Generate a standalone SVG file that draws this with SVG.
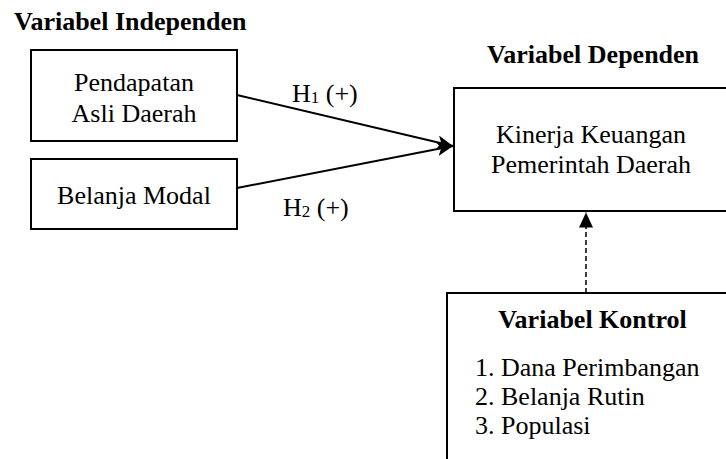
<svg xmlns="http://www.w3.org/2000/svg" width="726" height="459" viewBox="0 0 726 459">
<style>
text{font-family:"Liberation Serif","Times New Roman",serif;font-size:26px;fill:#000}
.b{font-weight:bold}
.box{fill:#fff;stroke:#000;stroke-width:2}
.ln{stroke:#000;stroke-width:2;fill:none}
.dash{stroke:#000;stroke-width:1.5;fill:none;stroke-dasharray:5 3}
.sub{font-size:17px}
</style>
<defs>
<marker id="ah" viewBox="0 0 16 14" refX="16" refY="7" markerWidth="16" markerHeight="14" markerUnits="userSpaceOnUse" orient="auto">
<path d="M0,0 L16,7 L0,14 L4,7 z" fill="#000"/>
</marker>
<marker id="ah2" viewBox="0 0 15 14" refX="15" refY="7" markerWidth="15" markerHeight="14" markerUnits="userSpaceOnUse" orient="auto">
<path d="M0,0 L15,7 L0,14 z" fill="#000"/>
</marker>
</defs>
<rect width="726" height="459" fill="#fff"/>
<text class="b" x="14" y="29.5">Variabel Independen</text>
<text class="b" x="593" y="63.3" text-anchor="middle">Variabel Dependen</text>
<g id="pad">
<rect class="box" x="31" y="50" width="206" height="91"/>
<text x="134" y="90.7" text-anchor="middle">Pendapatan</text>
<text x="134" y="121.7" text-anchor="middle">Asli Daerah</text>
</g>
<g id="bm">
<rect class="box" x="31" y="159" width="206" height="70"/>
<text x="134" y="204" text-anchor="middle">Belanja Modal</text>
</g>
<g id="kkpd">
<rect class="box" x="454" y="88" width="280" height="123"/>
<text x="591" y="143.3" text-anchor="middle">Kinerja Keuangan</text>
<text x="591" y="173.3" text-anchor="middle">Pemerintah Daerah</text>
</g>
<g id="kontrol">
<rect class="box" x="447" y="293" width="290" height="180"/>
<text class="b" x="592.5" y="328" text-anchor="middle">Variabel Kontrol</text>
<text x="475" y="376">1. Dana Perimbangan</text>
<text x="475" y="405">2. Belanja Rutin</text>
<text x="475" y="434">3. Populasi</text>
</g>
<g id="connectors">
<line class="ln" x1="237" y1="95" x2="453" y2="146" marker-end="url(#ah)"/>
<line class="ln" x1="237" y1="188" x2="453" y2="146" marker-end="url(#ah)"/>
<line class="dash" x1="586" y1="293" x2="586" y2="212.5" marker-end="url(#ah2)"/>
<text x="292" y="102">H<tspan class="sub" dy="1">1</tspan><tspan dy="-1"> (+)</tspan></text>
<text x="283" y="216">H<tspan class="sub" dy="1">2</tspan><tspan dy="-1"> (+)</tspan></text>
</g>
</svg>
